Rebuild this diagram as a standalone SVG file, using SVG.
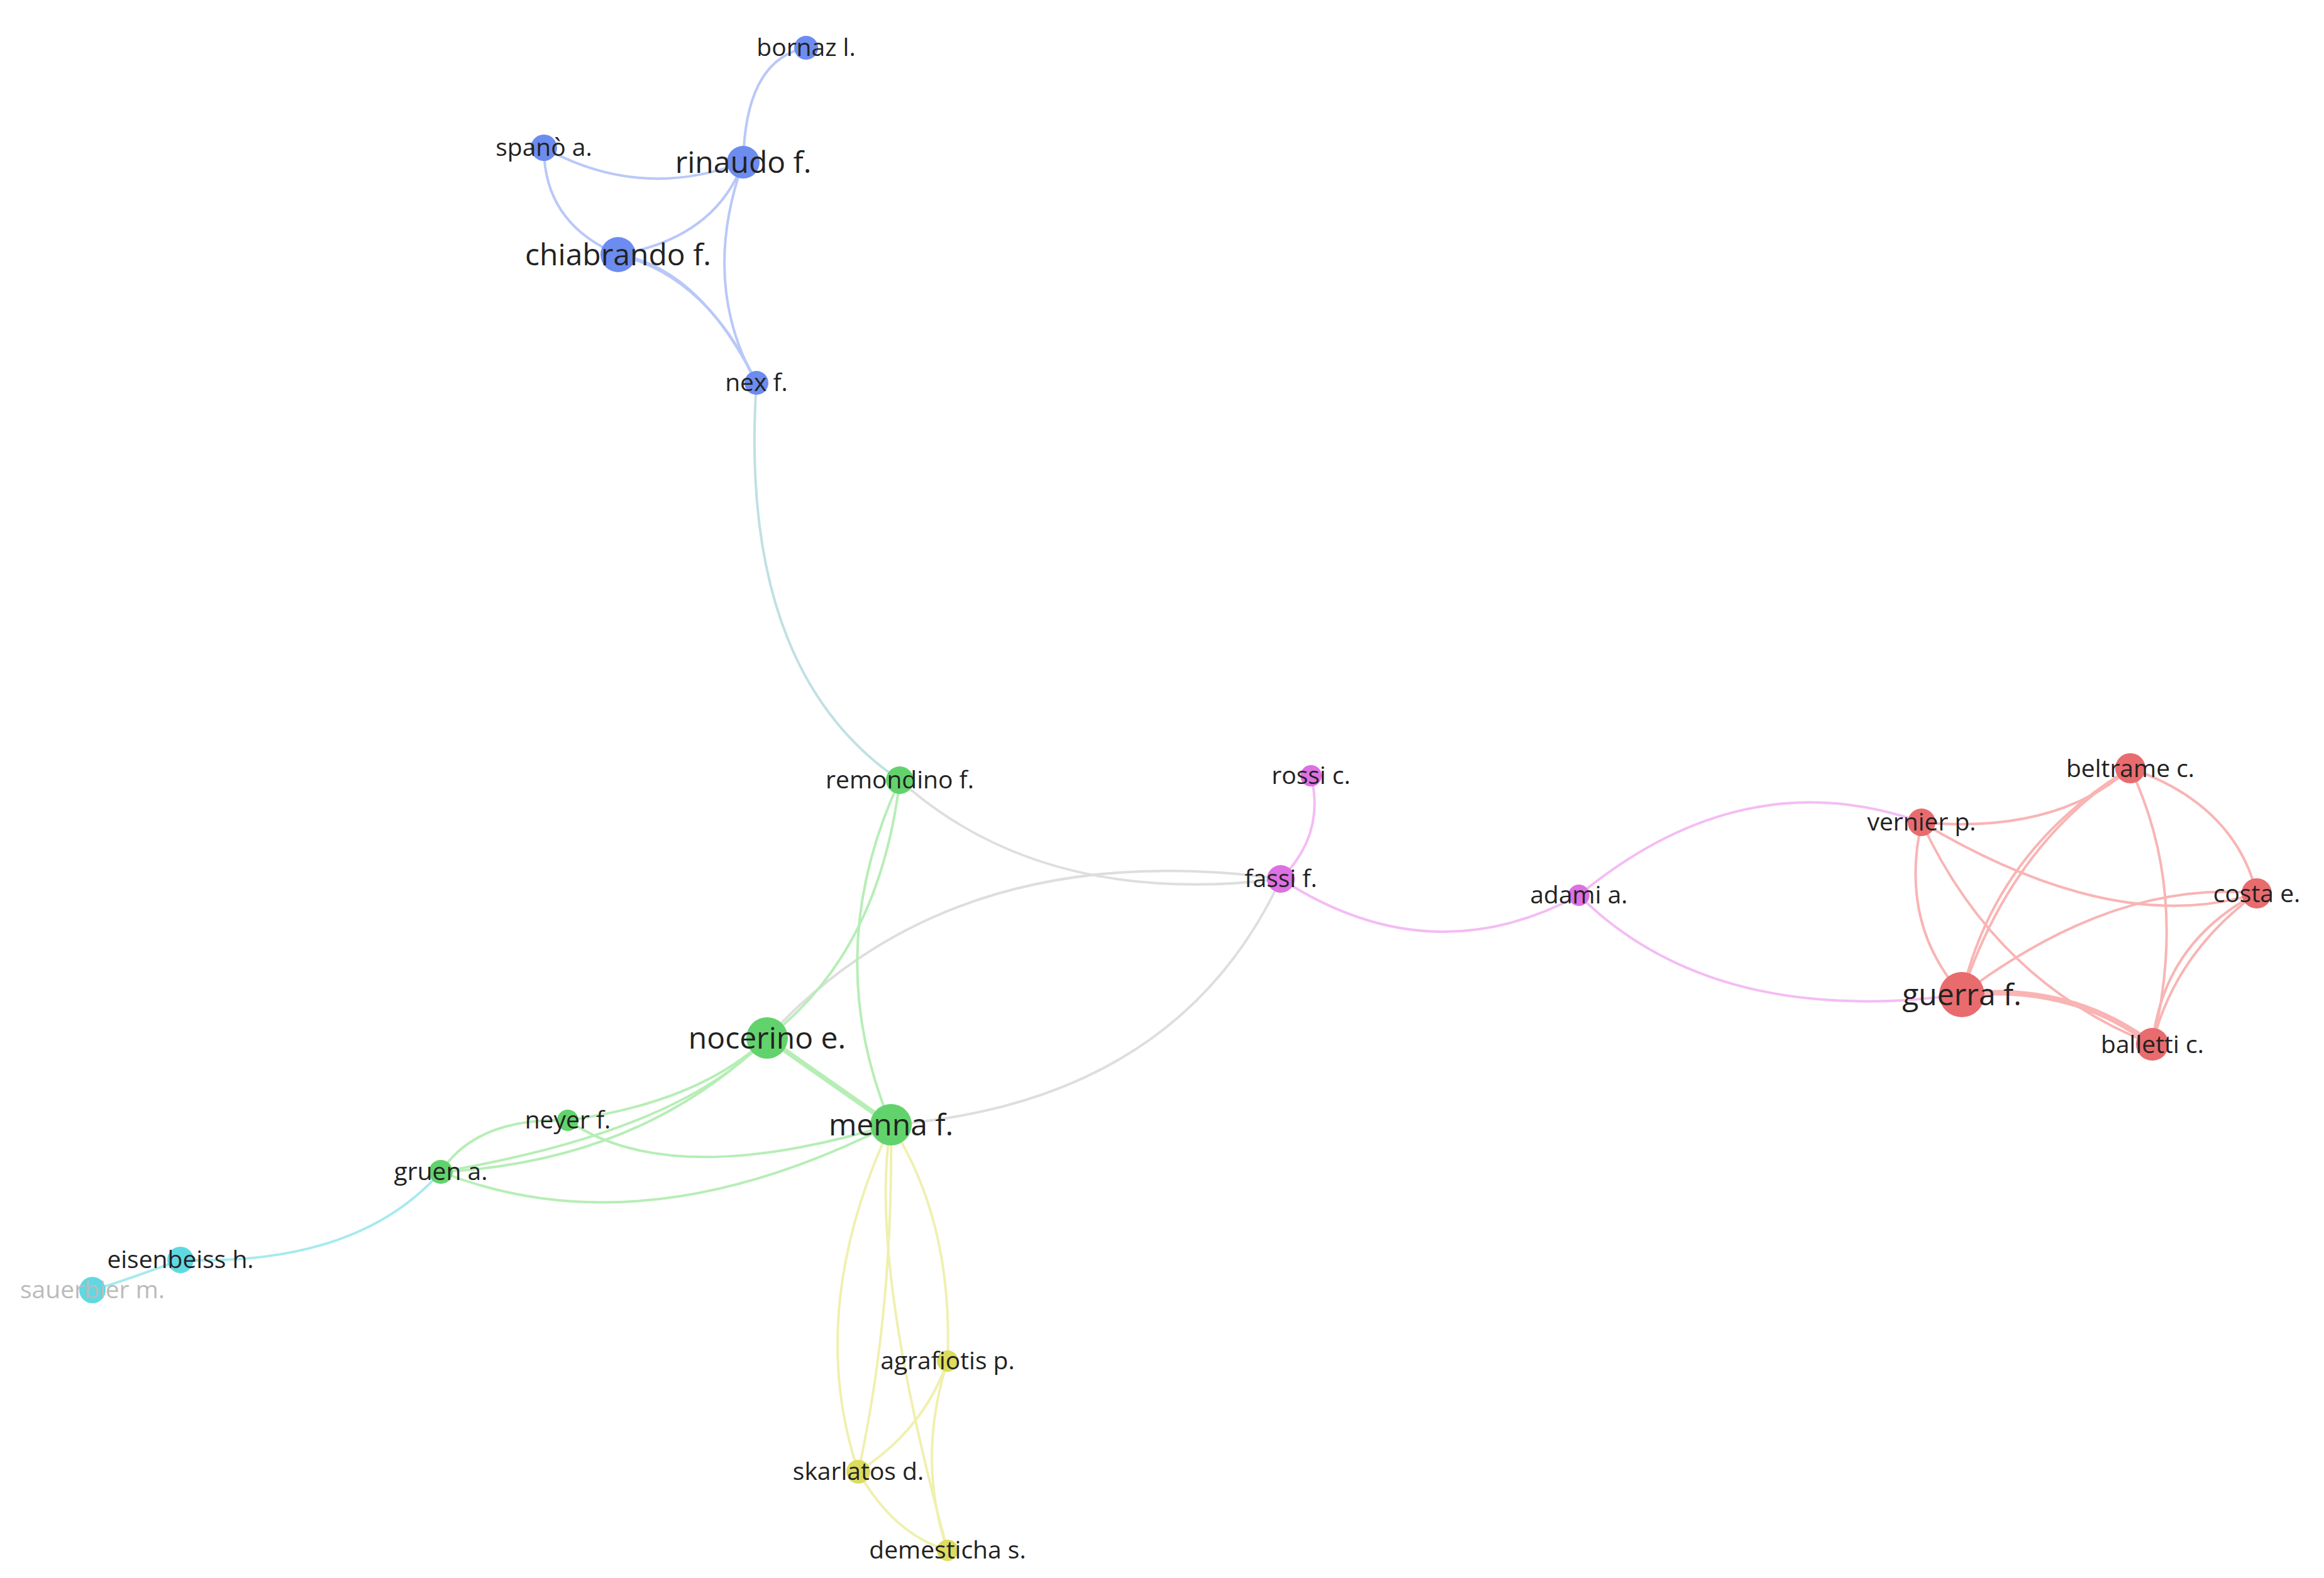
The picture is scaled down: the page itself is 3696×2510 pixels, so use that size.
<svg xmlns="http://www.w3.org/2000/svg" width="3696" height="2510" viewBox="0 0 3696 2510">
<style>
text{font-family:"Open Sans","Noto Sans",sans-serif;fill:#222;text-anchor:middle;font-size:39px}
.big{font-size:48px}
path{fill:none;stroke-width:4;stroke-linecap:round}
.b{stroke:#b9c8f8}.g{stroke:#b6eeb6}.r{stroke:#f9b4b4}.p{stroke:#f4bcf4}.y{stroke:#f0f0b0}.c{stroke:#a6eaee}.x{stroke:#dedede}
.nb{fill:#6d8cef}.ng{fill:#62d36c}.nr{fill:#e86b6e}.np{fill:#dd70e2}.ny{fill:#dcdc5e}.nc{fill:#60d8e2}
</style>
<g id="edges">
<path class="b" d="M1282 76 Q1185 95 1182 258"/>
<path class="b" d="M865 235 Q1019 320 1182 258"/>
<path class="b" d="M865 235 Q865 355 983 405"/>
<path class="b" d="M983 405 Q1137 379 1182 258"/>
<path class="b" d="M1182 258 Q1113 450 1203 609"/>
<path class="b" d="M983 405 Q1113 426 1203 609"/>
<path class="b" d="M983 405 Q1125 440 1203 609"/>
<path class="b" style="stroke:#c0e0e4" d="M1203 609 Q1173 1066 1431 1241"/>
<path class="x" d="M1431 1241 Q1658 1445 2037 1398"/>
<path class="x" d="M1220 1651 Q1516 1327 2037 1398"/>
<path class="x" d="M1417 1789 Q1872 1753 2037 1398"/>
<path class="p" d="M2085 1234 Q2108 1327 2037 1398"/>
<path class="p" d="M2037 1398 Q2274 1552 2511 1424"/>
<path class="p" d="M2511 1424 Q2772 1208 3056 1308"/>
<path class="p" d="M2511 1424 Q2724 1635 3120 1582"/>
<path class="r" d="M3056 1308 Q3269 1327 3388 1222"/>
<path class="r" d="M3056 1308 Q3364 1492 3589 1421"/>
<path class="r" d="M3056 1308 Q3020 1469 3120 1582"/>
<path class="r" d="M3056 1308 Q3174 1563 3423 1661"/>
<path class="r" d="M3388 1222 Q3174 1350 3120 1582"/>
<path class="r" d="M3388 1222 Q3200 1340 3120 1582"/>
<path class="r" d="M3388 1222 Q3553 1279 3589 1421"/>
<path class="r" d="M3388 1222 Q3482 1421 3423 1661"/>
<path class="r" d="M3589 1421 Q3364 1398 3120 1582"/>
<path class="r" d="M3589 1421 Q3459 1516 3423 1661"/>
<path class="r" d="M3589 1421 Q3440 1500 3423 1661"/>
<path class="r" style="stroke-width:9" d="M3120 1582 Q3293 1563 3423 1661"/>
<path class="g" d="M1431 1241 Q1398 1516 1220 1651"/>
<path class="g" d="M1431 1241 Q1303 1516 1417 1789"/>
<path class="g" style="stroke-width:8" d="M1220 1651 L1417 1789"/>
<path class="g" d="M1220 1651 Q1113 1753 903 1782"/>
<path class="g" d="M1220 1651 Q1019 1848 701 1864"/>
<path class="g" d="M1220 1651 Q1080 1800 701 1864"/>
<path class="g" d="M1417 1789 Q1019 1990 701 1864"/>
<path class="g" d="M1417 1789 Q1066 1895 903 1782"/>
<path class="g" d="M701 1864 Q758 1777 903 1782"/>
<path class="c" d="M701 1864 Q569 2014 287 2004"/>
<path class="c" d="M287 2004 Q190 2040 147 2052"/>
<path class="y" d="M1417 1789 Q1516 1943 1507 2165"/>
<path class="y" d="M1417 1789 Q1279 2085 1365 2341"/>
<path class="y" d="M1417 1789 Q1421 2085 1365 2341"/>
<path class="y" d="M1417 1789 Q1380 2000 1507 2466"/>
<path class="y" d="M1507 2165 Q1469 2274 1365 2341"/>
<path class="y" d="M1365 2341 Q1421 2440 1507 2466"/>
<path class="y" d="M1507 2165 Q1457 2322 1507 2466"/>
</g>
<g id="bornaz"><circle class="nb" cx="1282" cy="76" r="19"/><text x="1282" y="89">bornaz l.</text></g>
<g id="spano"><circle class="nb" cx="865" cy="235" r="21"/><text x="865" y="248">spanò a.</text></g>
<g id="rinaudo"><circle class="nb" cx="1182" cy="258" r="26"/><text class="big" x="1182" y="275">rinaudo f.</text></g>
<g id="chiabrando"><circle class="nb" cx="983" cy="405" r="28"/><text class="big" x="983" y="422">chiabrando f.</text></g>
<g id="nex"><circle class="nb" cx="1203" cy="609" r="19"/><text x="1203" y="622">nex f.</text></g>
<g id="remondino"><circle class="ng" cx="1431" cy="1241" r="22"/><text x="1431" y="1254">remondino f.</text></g>
<g id="rossi"><circle class="np" cx="2085" cy="1234" r="17"/><text x="2085" y="1247">rossi c.</text></g>
<g id="fassi"><circle class="np" cx="2037" cy="1398" r="22"/><text x="2037" y="1411">fassi f.</text></g>
<g id="adami"><circle class="np" cx="2511" cy="1424" r="17"/><text x="2511" y="1437">adami a.</text></g>
<g id="vernier"><circle class="nr" cx="3056" cy="1308" r="22"/><text x="3056" y="1321">vernier p.</text></g>
<g id="beltrame"><circle class="nr" cx="3388" cy="1222" r="24"/><text x="3388" y="1236">beltrame c.</text></g>
<g id="costa"><circle class="nr" cx="3589" cy="1421" r="24"/><text x="3589" y="1435">costa e.</text></g>
<g id="guerra"><circle class="nr" cx="3120" cy="1582" r="36"/><text class="big" x="3120" y="1599">guerra f.</text></g>
<g id="balletti"><circle class="nr" cx="3423" cy="1661" r="26"/><text x="3423" y="1675">balletti c.</text></g>
<g id="nocerino"><circle class="ng" cx="1220" cy="1651" r="33"/><text class="big" x="1220" y="1668">nocerino e.</text></g>
<g id="menna"><circle class="ng" cx="1417" cy="1789" r="33"/><text class="big" x="1417" y="1806">menna f.</text></g>
<g id="neyer"><circle class="ng" cx="903" cy="1782" r="17"/><text x="903" y="1795">neyer f.</text></g>
<g id="gruen"><circle class="ng" cx="701" cy="1864" r="19"/><text x="701" y="1877">gruen a.</text></g>
<g id="eisenbeiss"><circle class="nc" cx="287" cy="2004" r="21"/><text x="287" y="2017">eisenbeiss h.</text></g>
<g id="sauerbier"><circle class="nc" cx="147" cy="2052" r="21"/><text x="147" y="2065" style="fill:#bbb">sauerbier m.</text></g>
<g id="agrafiotis"><circle class="ny" cx="1507" cy="2165" r="17"/><text x="1507" y="2178">agrafiotis p.</text></g>
<g id="skarlatos"><circle class="ny" cx="1365" cy="2341" r="19"/><text x="1365" y="2354">skarlatos d.</text></g>
<g id="demesticha"><circle class="ny" cx="1507" cy="2466" r="17"/><text x="1507" y="2479">demesticha s.</text></g>
</svg>
